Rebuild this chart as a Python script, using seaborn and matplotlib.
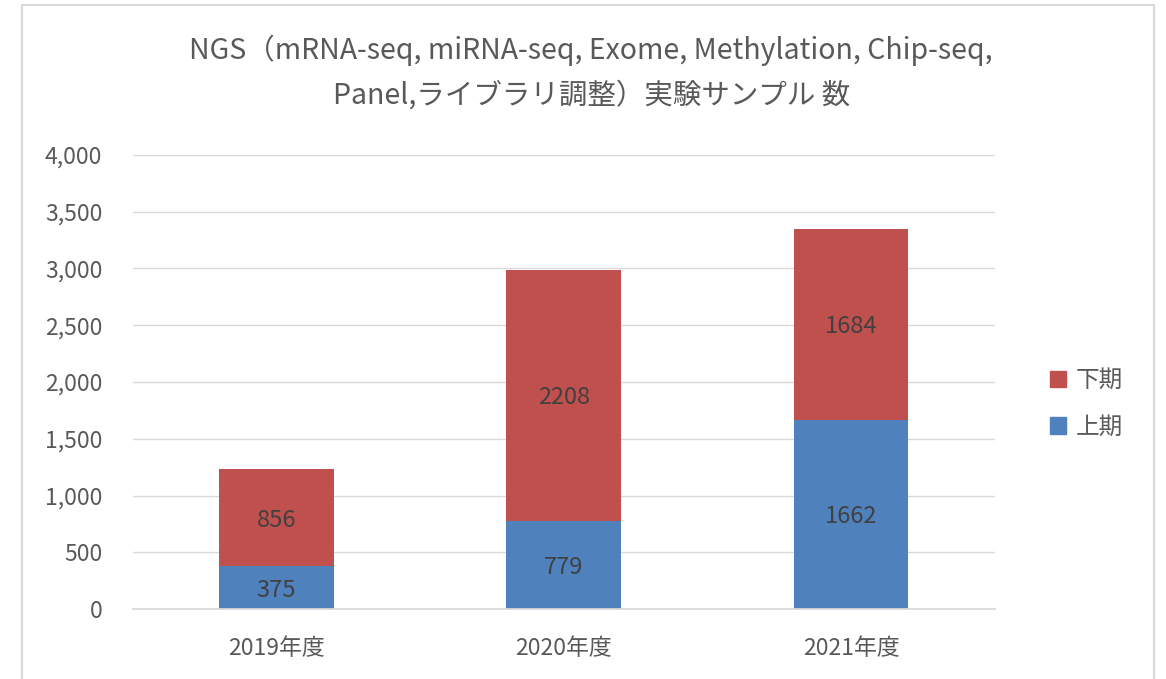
import matplotlib
matplotlib.use("Agg")
import matplotlib.pyplot as plt
import seaborn as sns
import pandas as pd
from matplotlib.patches import Rectangle, Patch
from matplotlib.ticker import FuncFormatter

sns.set_theme(style="white")
plt.rcParams['font.family'] = ['Noto Sans CJK JP', 'DejaVu Sans']

years = ["2019年度", "2020年度", "2021年度"]
first_half = [375, 779, 1662]     # 上期
second_half = [856, 2208, 1684]   # 下期
title = "NGS（mRNA-seq, miRNA-seq, Exome, Methylation, Chip-seq,\nPanel,ライブラリ調整）実験サンプル 数"

totals = [a + b for a, b in zip(first_half, second_half)]
df = pd.DataFrame({"year": years, "first": first_half, "second": second_half, "total": totals})

RED = "#C0504D"
BLUE = "#4F81BD"
GRAY = "#595959"

fig = plt.figure(figsize=(11.66, 6.79), dpi=100)
ax = fig.add_axes([0.114, 0.103, 0.739, 0.669])

sns.barplot(data=df, x="year", y="total", color=RED, saturation=1, width=0.4, linewidth=0, ax=ax)
sns.barplot(data=df, x="year", y="first", color=BLUE, saturation=1, width=0.4, linewidth=0, ax=ax)

for i, (a, b) in enumerate(zip(first_half, second_half)):
    ax.text(i, a / 2 - 20, str(a), ha="center", va="center", fontsize=17, color="#404040")
    ax.text(i, a + b / 2 - 20, str(b), ha="center", va="center", fontsize=17, color="#404040")

ax.set_ylim(0, 4000)
ax.set_yticks(range(0, 4001, 500))
ax.yaxis.set_major_formatter(FuncFormatter(lambda v, p: f"{int(v):,}"))
ax.grid(axis="y", color="#D9D9D9", linewidth=1)
ax.set_axisbelow(True)
for s in ["top", "right", "left"]:
    ax.spines[s].set_visible(False)
ax.spines["bottom"].set_color("#D9D9D9")
ax.set_xlabel("")
ax.set_ylabel("")
ax.tick_params(axis="both", colors=GRAY, labelsize=16.5, length=0)
ax.tick_params(axis="x", pad=20)
ax.tick_params(axis="y", pad=22)

fig.text(0.507, 0.893, title, ha="center", va="center", fontsize=20.5, color=GRAY, linespacing=1.6)

handles = [Patch(color=RED, label="下期"), Patch(color=BLUE, label="上期")]
leg = fig.legend(handles=handles, loc="center left", bbox_to_anchor=(0.882, 0.405), frameon=False,
                 fontsize=17, handlelength=0.7, handleheight=0.7, handletextpad=0.4, labelspacing=1.0,
                 labelcolor=GRAY)

fig.patches.append(Rectangle((22 / 1166, -0.05), (1154 - 22) / 1166, 1 - 5 / 679 + 0.05,
                             transform=fig.transFigure, fill=False, edgecolor="#D9D9D9", linewidth=1.5))

fig.savefig("out.png", dpi=100)
